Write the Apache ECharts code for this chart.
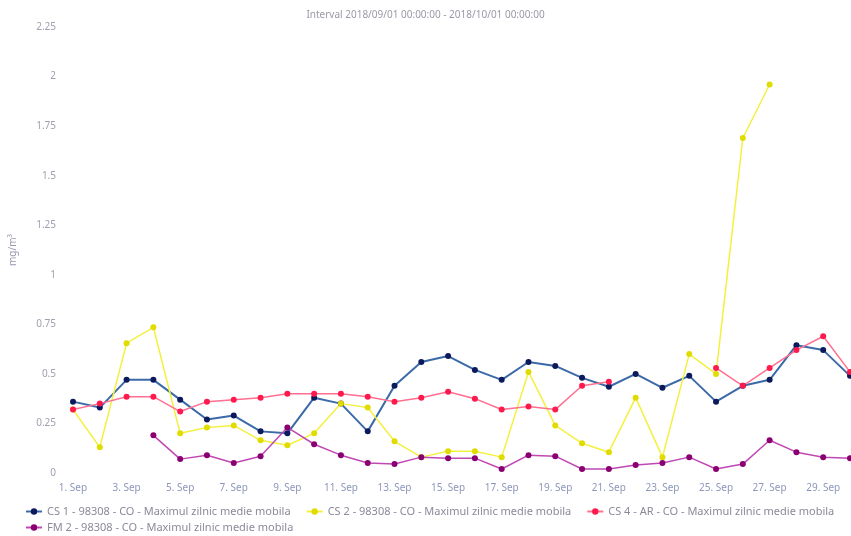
<!DOCTYPE html>
<html>
<head>
<meta charset="utf-8">
<script src="https://cdn.jsdelivr.net/npm/echarts@6/dist/echarts.min.js"></script>
<style>
  html, body { margin: 0; padding: 0; background: #fff; }
  #chart { width: 851px; height: 536px; }
</style>
</head>
<body>
<div id="chart"></div>
<script>
// zile 1-30 Sep
var days = []
for (var d = 1; d <= 30; d++) days.push(d + '. Sep')

var cs1 = [0.36, 0.33, 0.47, 0.47, 0.37, 0.27, 0.29, 0.21, 0.20, 0.38,
  0.35, 0.21, 0.44, 0.56, 0.59, 0.52, 0.47, 0.56, 0.54, 0.48,
  0.435, 0.50, 0.43, 0.49, 0.36, 0.44, 0.47, 0.645, 0.62, 0.49]
var cs2 = [0.32, 0.13, 0.655, 0.735, 0.20, 0.23, 0.24, 0.165, 0.14, 0.20,
  0.35, 0.33, 0.16, 0.08, 0.11, 0.11, 0.08, 0.51, 0.24, 0.15,
  0.105, 0.38, 0.08, 0.60, 0.50, 1.69, 1.96, null, null, null]
var cs4 = [0.32, 0.35, 0.385, 0.385, 0.31, 0.36, 0.37, 0.38, 0.40, 0.40,
  0.40, 0.385, 0.36, 0.38, 0.41, 0.375, 0.32, 0.335, 0.32, 0.44,
  0.46, null, null, null, 0.53, 0.44, 0.53, 0.62, 0.69, 0.51]
var fm2 = [null, null, null, 0.19, 0.07, 0.09, 0.05, 0.085, 0.23, 0.145,
  0.09, 0.05, 0.045, 0.08, 0.075, 0.075, 0.02, 0.09, 0.085, 0.02,
  0.02, 0.04, 0.05, 0.08, 0.02, 0.045, 0.165, 0.105, 0.08, 0.075]

var names = [
  'CS 1 - 98308 - CO - Maximul zilnic medie mobila',
  'CS 2 - 98308 - CO - Maximul zilnic medie mobila',
  'CS 4 - AR - CO - Maximul zilnic medie mobila',
  'FM 2 - 98308 - CO - Maximul zilnic medie mobila'
]

function serie (name, data, line, dot, w) {
  return {
    name: name,
    type: 'line',
    data: data,
    symbol: 'circle',
    symbolSize: 6,
    showAllSymbol: true,
    connectNulls: false,
    lineStyle: { color: line, width: w },
    itemStyle: { color: dot }
  }
}

// legenda pe doua randuri
function legenda (top, data) {
  return {
    left: 25,
    top: top,
    padding: 0,
    itemWidth: 16,
    itemHeight: 8,
    itemGap: 15,
    textStyle: { fontSize: 11, color: '#8a8a9a' },
    data: data
  }
}

var chart = echarts.init(document.getElementById('chart'))
chart.setOption({
  animation: false,
  textStyle: { fontFamily: 'Noto Sans' },
  title: {
    text: 'Interval 2018/09/01 00:00:00 - 2018/10/01 00:00:00',
    left: 'center',
    top: 5,
    textStyle: { fontSize: 10, fontWeight: 'normal', color: '#9a9aa8' }
  },
  grid: { left: 70, right: 1, top: 27, bottom: 63 },
  legend: [
    legenda(506, names.slice(0, 3)),
    legenda(522, names.slice(3))
  ],
  xAxis: {
    type: 'category',
    boundaryGap: false,
    data: days,
    axisLine: { show: false },
    axisTick: { show: false },
    axisLabel: { interval: 1, color: '#8e96b8', fontSize: 10, margin: 10 }
  },
  yAxis: {
    type: 'value',
    min: 0,
    max: 2.25,
    interval: 0.25,
    name: 'mg/m³',
    nameLocation: 'middle',
    nameRotate: 90,
    nameGap: 55,
    nameTextStyle: { color: '#9a9ab0', fontSize: 10 },
    axisLine: { show: false },
    axisTick: { show: false },
    splitLine: { show: false },
    axisLabel: { color: '#a0a0b0', fontSize: 10, margin: 17 }
  },
  series: [
    serie(names[0], cs1, '#3a6aa8', '#0c1a5c', 2),
    serie(names[1], cs2, '#f4f040', '#e0dc00', 1.5),
    serie(names[2], cs4, '#ff7090', '#ff1a4d', 1.5),
    serie(names[3], fm2, '#c048b4', '#8a0070', 1.5)
  ]
})
</script>
</body>
</html>
